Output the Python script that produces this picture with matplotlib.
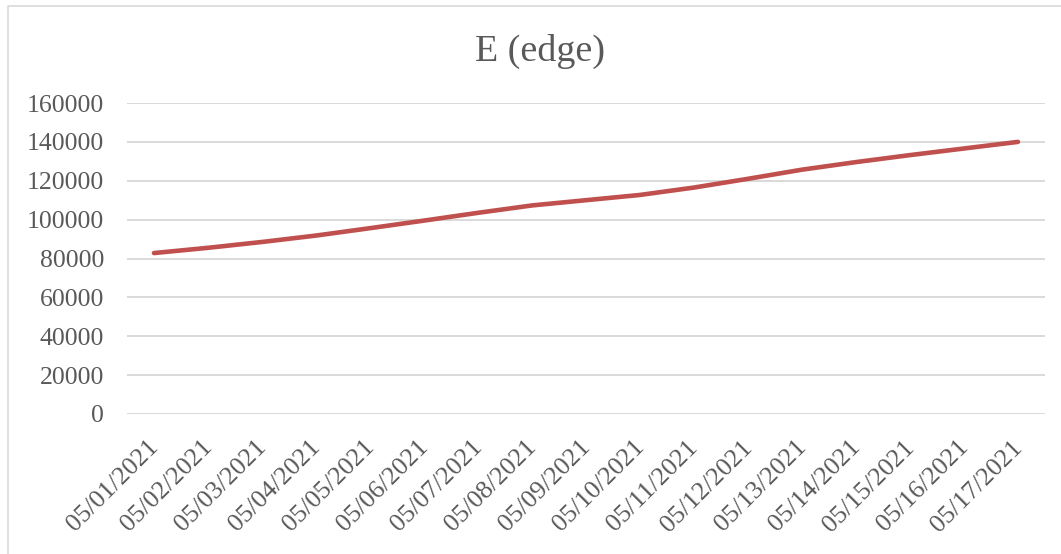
import matplotlib
matplotlib.use("Agg")
import matplotlib.pyplot as plt
from matplotlib.lines import Line2D
from matplotlib.transforms import ScaledTranslation

dates = ["05/01/2021", "05/02/2021", "05/03/2021", "05/04/2021", "05/05/2021",
         "05/06/2021", "05/07/2021", "05/08/2021", "05/09/2021", "05/10/2021",
         "05/11/2021", "05/12/2021", "05/13/2021", "05/14/2021", "05/15/2021",
         "05/16/2021", "05/17/2021"]
edges = [82800, 85500, 88500, 91800, 95600, 99500, 103500, 107300, 110000,
         112700, 116500, 121000, 125700, 129600, 133200, 136600, 140000]
yticks = [0, 20000, 40000, 60000, 80000, 100000, 120000, 140000, 160000]
title = "E (edge)"

W, H, DPI = 1061, 554, 100
plt.rcParams['font.family'] = ['Liberation Serif', 'DejaVu Serif']
text_color = "#595959"
grid_color = "#D9D9D9"

fig = plt.figure(figsize=(W / DPI, H / DPI), dpi=DPI)
fig.patch.set_facecolor("white")

ax = fig.add_axes([127 / W, 1 - 414 / H, (1045 - 127) / W, (414 - 103) / H])
x = list(range(len(dates)))
ax.plot(x, edges, color="#C0504D", linewidth=3.3, solid_capstyle="round",
        solid_joinstyle="round", zorder=3)

ax.set_xlim(-0.5, len(dates) - 0.5)
ax.set_ylim(yticks[0], yticks[-1])
ax.set_yticks(yticks)
ax.set_yticklabels([str(v) for v in yticks])
ax.set_xticks(x)
ax.set_xticklabels(dates, rotation=45, ha="right", va="top", rotation_mode="anchor")

for s in ax.spines.values():
    s.set_visible(False)
ax.grid(axis="y", color=grid_color, linewidth=1.4, zorder=0)
ax.set_axisbelow(True)
ax.tick_params(axis="y", length=0, pad=16.5, labelsize=18.5, labelcolor=text_color)
ax.tick_params(axis="x", length=0, pad=16, labelsize=18.8, labelcolor=text_color)

for lab in ax.get_xticklabels():
    lab.set_transform(lab.get_transform() + ScaledTranslation(-7 / DPI, 0, fig.dpi_scale_trans))

fig.text(540 / W, 1 - 60.7 / H, title, ha="center", va="baseline",
         fontsize=27.4, color=text_color)

# chart border (top and left visible in crop)
fig.add_artist(Line2D([8 / W, 8 / W, 1.0], [0.0, 1 - 5.5 / H, 1 - 5.5 / H],
                      transform=fig.transFigure, color=grid_color, linewidth=1.2))

fig.savefig("out.png", dpi=DPI, facecolor="white")
